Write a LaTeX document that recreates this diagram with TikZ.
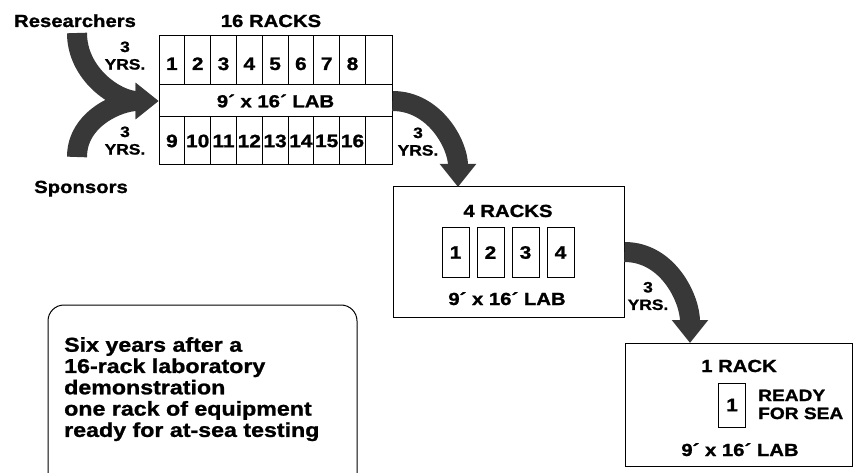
\documentclass[tikz,border=0pt]{standalone}
\usepackage{fontspec}
\setmainfont{Liberation Sans Bold}[FakeStretch=1.16, FakeBold=1.2]
\usetikzlibrary{arrows.meta}
\definecolor{arrowgrey}{HTML}{383838}
\newcommand{\bigfont}{\fontsize{17.5}{20}\selectfont}
\newcommand{\notefont}{\fontsize{16.5}{18}\selectfont}
\newcommand{\yrsfont}{\fontsize{15}{17.5}\selectfont}
\newcommand{\numfont}{\fontsize{18}{20}\selectfont}
\newcommand{\bodyfont}{\fontsize{20}{21.3}\selectfont}
\tikzset{
  labframe/.style={draw, line width=1pt, inner sep=0pt},
  rackcell/.style={draw, line width=1pt, inner sep=0pt, font=\numfont,
    minimum width=25.8pt, minimum height=49pt},
  standcell/.style={draw, line width=1pt, inner sep=0pt, font=\numfont,
    minimum width=27pt, minimum height=49pt},
  heading/.style={font=\bigfont, inner sep=0pt, anchor=base},
  yrslabel/.style={font=\yrsfont, inner sep=0pt, align=center},
  yearsarrow/.style={-{Triangle[length=23pt,width=35pt]}, line width=20pt,
    draw=arrowgrey}
}

\begin{document}
\begin{tikzpicture}[x=1pt, y=1pt]
\useasboundingbox (0,0) rectangle (854,-473);
\clip (0,0) rectangle (854,-473);

% people feeding the first lab
\node[heading] (researchers) at (75,-27) {Researchers};
\node[heading] (sponsors) at (81,-193) {Sponsors};

% 16 rack lab
\node[heading] (title16) at (271,-27) {16 RACKS};
\node[labframe, minimum width=233pt, minimum height=129pt] (lab16) at (275.5,-100.5) {};
\foreach \i in {1,...,8} {
  \node[rackcell, text height=19pt, text depth=0pt] (top\i) at ({159+25.8*(\i-0.5)},-60.5) {\i};
}
\foreach \i [evaluate=\i as \j using int(\i+8)] in {1,...,8} {
  \node[rackcell, minimum height=48pt] (bot\i) at ({159+25.8*(\i-0.5)},-141) {\j};
}
\node[labframe, font=\bigfont, minimum width=233pt, minimum height=32pt] (labband) at (275.5,-101) {9´ x 16´ LAB};

% 4 rack lab
\node[labframe, minimum width=231pt, minimum height=130pt] (lab4) at (508.5,-252) {};
\node[heading] (title4) at (508,-217) {4 RACKS};
\foreach \i in {1,...,4} {
  \node[standcell] (mid\i) at ({455.5+35*(\i-1)},-252.5) {\i};
}
\node[heading] (size4) at (507,-305) {9´ x 16´ LAB};

% 1 rack lab
\node[labframe, minimum width=227pt, minimum height=123pt] (lab1) at (738.5,-404.5) {};
\node[heading] (title1) at (739,-372) {1 RACK};
\node[standcell, minimum height=44pt] (sea1) at (732,-405) {1};
\node[font=\notefont, inner sep=0pt, align=left, anchor=north west] (ready) at (758,-389.5) {READY\\FOR SEA};
\node[heading] (size1) at (740,-456) {9´ x 16´ LAB};

% the three year steps
\coordinate (resfoot) at (77,-33);
\coordinate (spofoot) at (77,-157);
\coordinate (lab4in) at (458,-187);
\coordinate (lab1in) at (690,-343);
\draw[yearsarrow] (resfoot) to[out=-90, in=180] (labband.west);
\draw[yearsarrow] (spofoot) to[out=90, in=180] (labband.west);
\draw[yearsarrow] (labband.east) to[out=0, in=90] (lab4in);
\draw[yearsarrow] (lab4.east) to[out=0, in=90] (lab1in);

\node[yrslabel] (yrs1) at (125,-55.6) {3\\YRS.};
\node[yrslabel] (yrs2) at (125,-140.6) {3\\YRS.};
\node[yrslabel] (yrs3) at (418,-141.6) {3\\YRS.};
\node[yrslabel] (yrs4) at (648,-296) {3\\YRS.};

% summary note
\draw[line width=1pt, rounded corners=16pt] (48,-490) -- (48,-305) -- (357,-305) -- (357,-490);
\node[font=\bodyfont, inner sep=0pt, align=left, anchor=north west] (summary) at (64,-337)
  {Six years after a\\16-rack laboratory\\demonstration\\one rack of equipment\\ready for at-sea testing};
\end{tikzpicture}
\end{document}
